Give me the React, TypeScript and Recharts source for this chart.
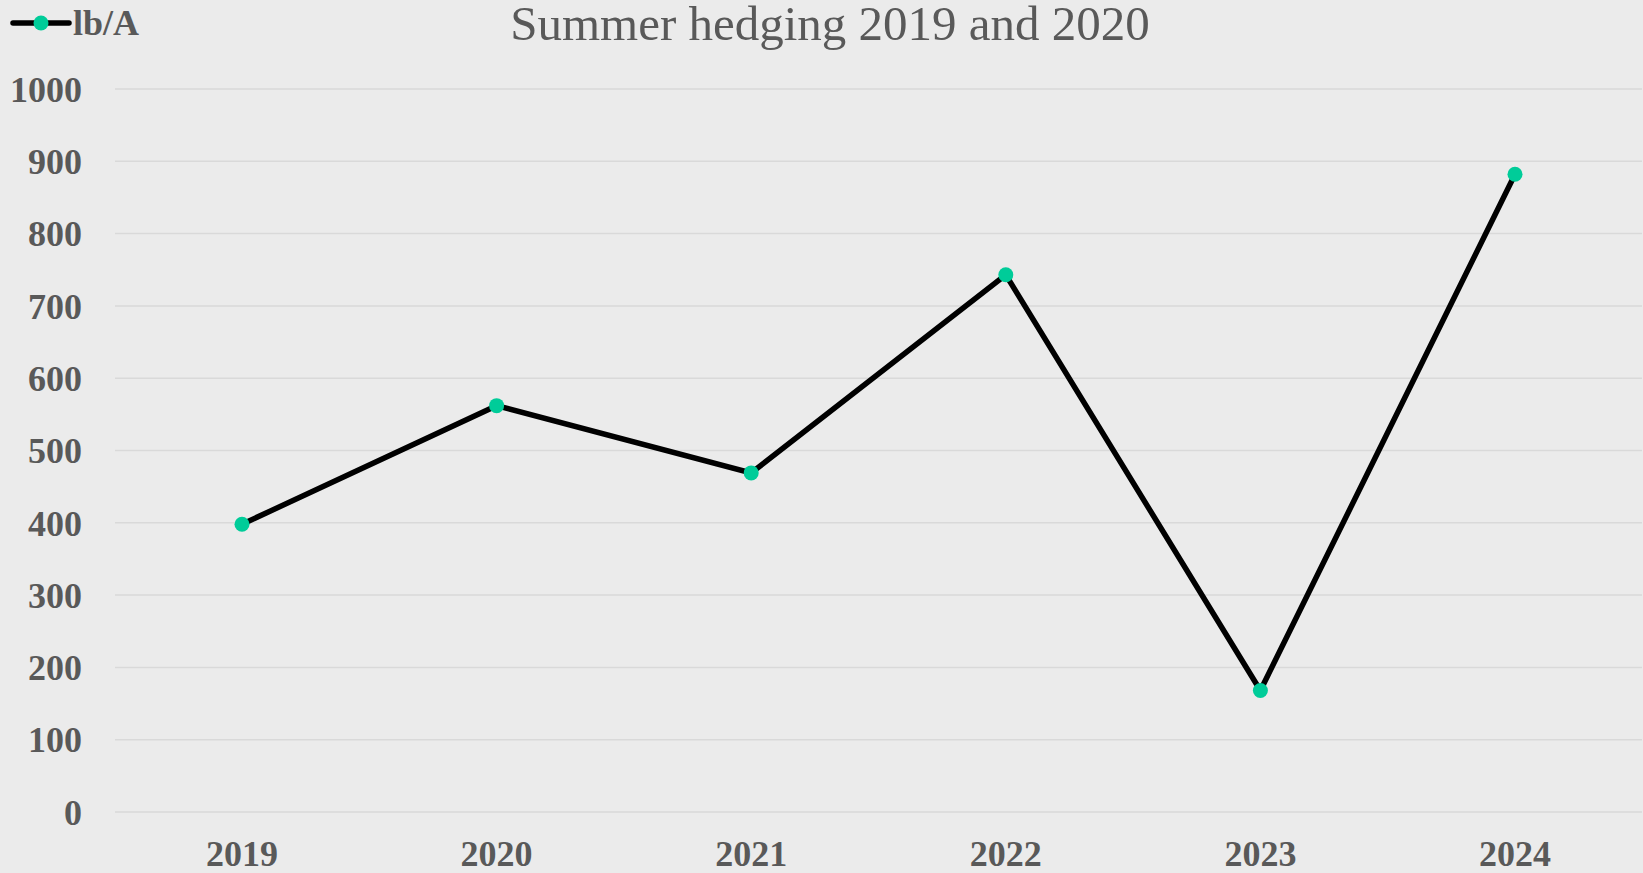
import { LineChart, Line, XAxis, YAxis, CartesianGrid } from 'recharts';

const years = ['2019', '2020', '2021', '2022', '2023', '2024'];
const lbPerAcre = [398, 562, 469, 743, 168, 882];
const yTicks = [0, 100, 200, 300, 400, 500, 600, 700, 800, 900, 1000];

const seriesName = 'lb/A';
const title = 'Summer hedging 2019 and 2020';

const W = 1643;
const H = 873;
const textGray = '#595959';
const dotColor = '#00CC99';
const serif = '"Liberation Serif", "Times New Roman", serif';

const chartData = years.map((year, i) => ({ year, [seriesName]: lbPerAcre[i] }));

const tickStyle = { fontFamily: serif, fontSize: 36, fontWeight: 700, fill: textGray };

const App = () => {
  return (
    <div style={{ position: 'absolute', left: 0, top: 0, width: W, height: H, background: '#EBEBEB' }}>
      <LineChart width={W} height={H} data={chartData} margin={{ top: 89, right: 1, left: 0, bottom: 0 }}>
        <CartesianGrid vertical={false} stroke="#D9D9D9" strokeWidth={1.5} />
        <XAxis
          dataKey="year"
          height={61}
          axisLine={false}
          tickLine={false}
          tickSize={0}
          tickMargin={28}
          padding={{ left: 127, right: 127 }}
          tick={tickStyle}
          interval={0}
        />
        <YAxis
          width={115}
          domain={[0, 1000]}
          ticks={yTicks}
          axisLine={false}
          tickLine={false}
          tickSize={0}
          tickMargin={33}
          tick={tickStyle}
          interval={0}
        />
        <Line
          type="linear"
          dataKey={seriesName}
          stroke="#000000"
          strokeWidth={5.5}
          dot={{ r: 7.5, fill: dotColor, stroke: 'none' }}
          activeDot={false}
          isAnimationActive={false}
        />
      </LineChart>

      {/* title and legend sit above the plot */}
      <svg width={W} height={60} style={{ position: 'absolute', left: 0, top: 0 }}>
        <text x={830} y={40} textAnchor="middle" fontFamily={serif} fontSize={49} fill={textGray}>
          {title}
        </text>
        <line x1={13} y1={23} x2={69} y2={23} stroke="#000" strokeWidth={5.5} strokeLinecap="round" />
        <circle cx={41} cy={23} r={7.5} fill={dotColor} />
        <text x={73} y={35} fontFamily={serif} fontSize={36} fontWeight={700} fill={textGray}>
          {seriesName}
        </text>
      </svg>
    </div>
  );
};

export default App;
